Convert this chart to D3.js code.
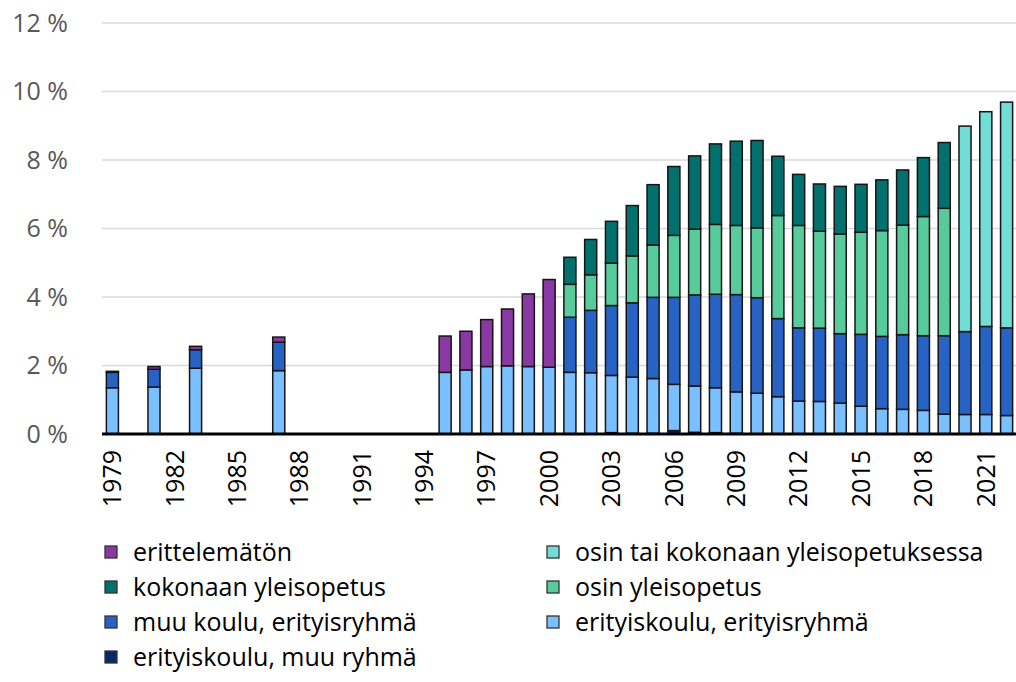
<!DOCTYPE html>
<html>
<head>
<meta charset="utf-8">
<script src="https://cdn.jsdelivr.net/npm/d3@7"></script>
<style>
  body { margin: 0; background: #fff; }
  svg { font-family: "Open Sans", sans-serif; }
</style>
</head>
<body>
<div id="chart"></div>
<script>
// years that have data
const dataYears = [1979, 1981, 1983, 1987,
    1995, 1996, 1997, 1998, 1999, 2000, 2001, 2002, 2003, 2004, 2005, 2006, 2007, 2008,
    2009, 2010, 2011, 2012, 2013, 2014, 2015, 2016, 2017, 2018, 2019, 2020, 2021, 2022];

// series values, % of pupils
const erityiskouluMuuRyhma = [0, 0, 0, 0,
    0, 0, 0, 0, 0, 0, 0, 0, 0.04, 0.02, 0.02, 0.10, 0.05, 0.04,
    0.02, 0, 0, 0, 0, 0, 0, 0, 0, 0, 0, 0, 0, 0];
const erityiskouluErityisryhma = [1.35, 1.37, 1.92, 1.85,
    1.80, 1.87, 1.97, 1.99, 1.97, 1.95, 1.80, 1.79, 1.67, 1.64, 1.60, 1.35, 1.35, 1.31,
    1.21, 1.19, 1.09, 0.96, 0.95, 0.90, 0.81, 0.74, 0.72, 0.69, 0.58, 0.57, 0.57, 0.54];
const muuKouluErityisryhma = [0.45, 0.52, 0.54, 0.83,
    0, 0, 0, 0, 0, 0, 1.61, 1.82, 2.04, 2.17, 2.37, 2.54, 2.66, 2.73,
    2.84, 2.79, 2.28, 2.14, 2.14, 2.03, 2.10, 2.11, 2.18, 2.18, 2.29, 2.42, 2.57, 2.56];
const osinYleisopetus = [0, 0, 0, 0,
    0, 0, 0, 0, 0, 0, 0.96, 1.04, 1.24, 1.37, 1.53, 1.81, 1.92, 2.04,
    2.02, 2.04, 3.01, 2.99, 2.83, 2.91, 2.98, 3.09, 3.20, 3.48, 3.72, 0, 0, 0];
const osinTaiKokonaan = [0, 0, 0, 0,
    0, 0, 0, 0, 0, 0, 0, 0, 0, 0, 0, 0, 0, 0,
    0, 0, 0, 0, 0, 0, 0, 0, 0, 0, 0, 6.00, 6.27, 6.59];
const kokonaanYleisopetus = [0, 0, 0, 0,
    0, 0, 0, 0, 0, 0, 0.79, 1.03, 1.22, 1.47, 1.76, 2.01, 2.14, 2.35,
    2.46, 2.55, 1.73, 1.49, 1.38, 1.39, 1.40, 1.48, 1.61, 1.72, 1.92, 0, 0, 0];
const erittelematon = [0.03, 0.08, 0.10, 0.15,
    1.06, 1.13, 1.37, 1.66, 2.12, 2.56, 0, 0, 0, 0, 0, 0, 0, 0,
    0, 0, 0, 0, 0, 0, 0, 0, 0, 0, 0, 0, 0, 0];

const yTicks = [0, 2, 4, 6, 8, 10, 12];
const xTickYears = [1979, 1982, 1985, 1988, 1991, 1994, 1997, 2000, 2003, 2006, 2009, 2012, 2015, 2018, 2021];

// series in stack order, bottom first
const series = [
    { key: "muuRyhma", name: "erityiskoulu, muu ryhmä", values: erityiskouluMuuRyhma, color: "#032b6b" },
    { key: "erityisryhma", name: "erityiskoulu, erityisryhmä", values: erityiskouluErityisryhma, color: "#7abfff" },
    { key: "muuKoulu", name: "muu koulu, erityisryhmä", values: muuKouluErityisryhma, color: "#2763c4" },
    { key: "osin", name: "osin yleisopetus", values: osinYleisopetus, color: "#57cb9c" },
    { key: "osinTai", name: "osin tai kokonaan yleisopetuksessa", values: osinTaiKokonaan, color: "#72ddd6" },
    { key: "kokonaan", name: "kokonaan yleisopetus", values: kokonaanYleisopetus, color: "#02716d" },
    { key: "erittelematon", name: "erittelemätön", values: erittelematon, color: "#8a38a3" }
];

// legend order as in picture (column 1, column 2)
const legendCol1 = ["erittelematon", "kokonaan", "muuKoulu", "muuRyhma"];
const legendCol2 = ["osinTai", "osin", "erityisryhma"];

const width = 1016;
const height = 682;
const plotLeft = 102;
const plotRight = 1017;
const plotTop = 23;
const plotBottom = 434;
const fontSize = 25;

const svg = d3.select("#chart").append("svg")
    .attr("width", width)
    .attr("height", height);

// table for d3.stack
const table = dataYears.map((yr, i) => {
    const row = { year: yr };
    series.forEach(s => { row[s.key] = s.values[i]; });
    return row;
});

const allYears = d3.range(1979, 2023);
const x = d3.scaleBand()
    .domain(allYears)
    .range([plotLeft, plotRight])
    .paddingInner(0.42)
    .paddingOuter(0.21);

const y = d3.scaleLinear()
    .domain([0, 12])
    .range([plotBottom, plotTop]);

// gridlines
svg.append("g")
    .selectAll("line")
    .data(yTicks.filter(d => d > 0))
    .join("line")
    .attr("x1", plotLeft)
    .attr("x2", width)
    .attr("y1", d => y(d))
    .attr("y2", d => y(d))
    .attr("stroke", "#d9d9d9")
    .attr("stroke-width", 1.5);

// y labels
const yAxis = d3.axisLeft(y)
    .tickValues(yTicks)
    .tickFormat(d => d + " %")
    .tickSize(0)
    .tickPadding(0);
const yg = svg.append("g")
    .attr("transform", "translate(68,0)")
    .call(yAxis);
yg.select(".domain").remove();
yg.selectAll("text")
    .attr("font-family", "'Open Sans', sans-serif")
    .attr("font-size", fontSize)
    .attr("fill", "#595959");

// bars
const stacked = d3.stack().keys(series.map(s => s.key))(table);
const colorOf = d3.scaleOrdinal()
    .domain(series.map(s => s.key))
    .range(series.map(s => s.color));

svg.append("g")
    .selectAll("g")
    .data(stacked)
    .join("g")
    .attr("fill", d => colorOf(d.key))
    .selectAll("rect")
    .data(d => d.filter(p => p[1] - p[0] > 0))
    .join("rect")
    .attr("x", d => x(d.data.year))
    .attr("width", x.bandwidth())
    .attr("y", d => y(d[1]))
    .attr("height", d => y(d[0]) - y(d[1]))
    .attr("stroke", "#151515")
    .attr("stroke-width", 1.5);

// baseline
svg.append("line")
    .attr("x1", plotLeft)
    .attr("x2", width)
    .attr("y1", y(0))
    .attr("y2", y(0))
    .attr("stroke", "#000")
    .attr("stroke-width", 3);

// x labels, rotated
const xAxis = d3.axisBottom(x)
    .tickValues(xTickYears)
    .tickSize(0)
    .tickPadding(0);
const xg = svg.append("g")
    .attr("transform", "translate(0," + (plotBottom + 16) + ")")
    .call(xAxis);
xg.select(".domain").remove();
xg.selectAll("text")
    .attr("font-family", "'Open Sans', sans-serif")
    .attr("font-size", fontSize)
    .attr("fill", "#000")
    .attr("text-anchor", "end")
    .attr("transform", "rotate(-90)")
    .attr("x", 0)
    .attr("y", 0)
    .attr("dy", "0.35em");

// legend
function drawLegend(keys, x0, y0) {
    const byKey = new Map(series.map(s => [s.key, s]));
    const g = svg.append("g").attr("transform", "translate(" + x0 + "," + y0 + ")");
    const item = g.selectAll("g")
        .data(keys.map(k => byKey.get(k)))
        .join("g")
        .attr("transform", (d, i) => "translate(0," + (i * 35) + ")");
    item.append("rect")
        .attr("x", 0)
        .attr("y", -6)
        .attr("width", 12)
        .attr("height", 12)
        .attr("fill", d => d.color)
        .attr("stroke", "#333")
        .attr("stroke-width", 1.3);
    item.append("text")
        .attr("x", 28)
        .attr("y", 0)
        .attr("dy", "0.35em")
        .attr("font-size", fontSize)
        .attr("fill", "#000")
        .text(d => d.name);
}
drawLegend(legendCol1, 105, 552);
drawLegend(legendCol2, 547, 552);
</script>
</body>
</html>
